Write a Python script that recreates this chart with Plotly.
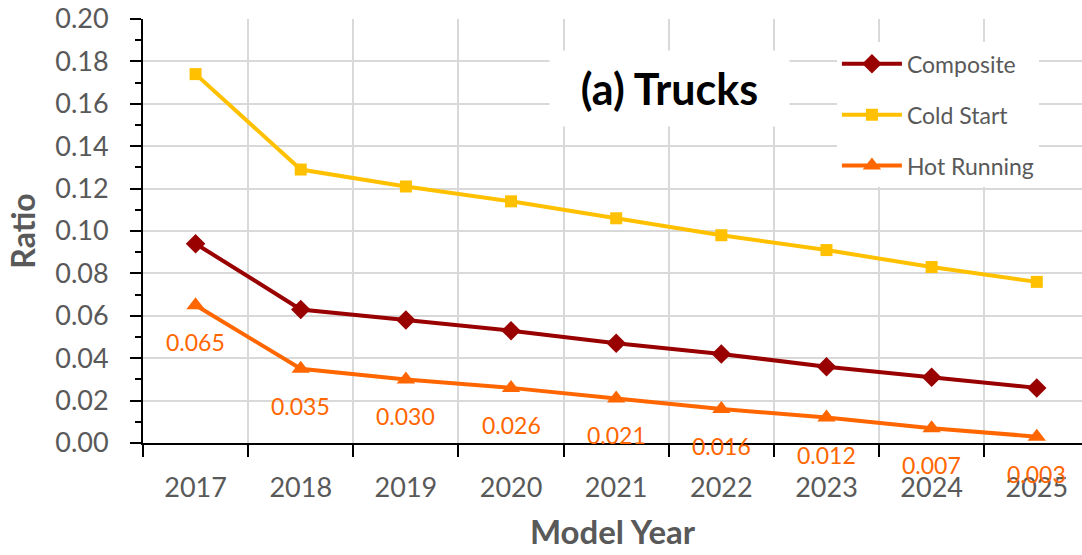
import plotly.graph_objects as go

years = ["2017", "2018", "2019", "2020", "2021", "2022", "2023", "2024", "2025"]
composite = [0.094, 0.063, 0.058, 0.053, 0.047, 0.042, 0.036, 0.031, 0.026]
cold_start = [0.174, 0.129, 0.121, 0.114, 0.106, 0.098, 0.091, 0.083, 0.076]
hot_running = [0.065, 0.035, 0.030, 0.026, 0.021, 0.016, 0.012, 0.007, 0.003]

x = list(range(len(years)))
GRAY = "#595959"
FONT = "Lato"

fig = go.Figure()

series = [
    ("Composite", composite, "#990000", "diamond", 15),
    ("Cold Start", cold_start, "#FFC000", "square", 12),
    ("Hot Running", hot_running, "#FF6600", "triangle-up", 16),
]
for i, (name, vals, color, symbol, size) in enumerate(series):
    fig.add_trace(go.Scatter(
        x=x, y=vals, name=name, mode="lines+markers",
        line=dict(color=color, width=4),
        marker=dict(symbol=symbol, size=size, color=color),
        legendgroup=f"g{i}",
    ))

# value labels under the Hot Running points
for xi, v in zip(x, hot_running):
    fig.add_annotation(
        x=xi, y=v, text=f"{v:.3f}", showarrow=False, yshift=-37,
        font=dict(family=FONT, size=23, color="#FF6600"),
    )

# panel title on a white box
fig.add_annotation(
    xref="paper", yref="paper", x=0.561, y=0.835,
    xanchor="center", yanchor="middle",
    text="<b>(a) Trucks</b>", showarrow=False,
    font=dict(family=FONT, size=43, color="#000000"),
    bgcolor="white", width=237, height=73,
)

fig.update_layout(
    width=1082, height=555,
    margin=dict(l=143, r=0, t=19, b=112),
    plot_bgcolor="white", paper_bgcolor="white",
    font=dict(family=FONT, color=GRAY),
    legend=dict(
        x=0.739, y=0.945, xanchor="left", yanchor="top",
        bgcolor="white", font=dict(family=FONT, size=23, color=GRAY),
        tracegroupgap=18, itemwidth=60,
    ),
    xaxis=dict(
        range=[-0.5, 8.43], tickmode="array", tickvals=x, ticktext=years,
        ticks="", showgrid=False, zeroline=False,
        showline=True, linecolor="black", linewidth=2,
        tickfont=dict(family=FONT, size=27, color=GRAY),
        ticklabelstandoff=20,
        minor=dict(tickvals=[i + 0.5 for i in range(-1, 9)], ticks="outside",
                   ticklen=12, tickwidth=2, tickcolor="black",
                   showgrid=True, gridcolor="#D9D9D9", gridwidth=2),
        title=dict(text="<b>Model Year</b>", standoff=18,
                   font=dict(family=FONT, size=33, color=GRAY)),
    ),
    yaxis=dict(
        range=[0, 0.2], tickmode="linear", tick0=0, dtick=0.02,
        tickformat=".2f", ticks="outside", ticklen=11, tickwidth=2,
        tickcolor="black", showgrid=True, gridcolor="#D9D9D9", gridwidth=2,
        zeroline=False, showline=True, linecolor="black", linewidth=2,
        tickfont=dict(family=FONT, size=27, color=GRAY),
        ticklabelstandoff=16,
        minor=dict(dtick=0.01, ticks="outside", ticklen=6, tickwidth=2,
                   tickcolor="black", showgrid=False),
        title=dict(text="<b>Ratio</b>", standoff=10,
                   font=dict(family=FONT, size=32, color=GRAY)),
    ),
)

fig.write_html("out.html")
